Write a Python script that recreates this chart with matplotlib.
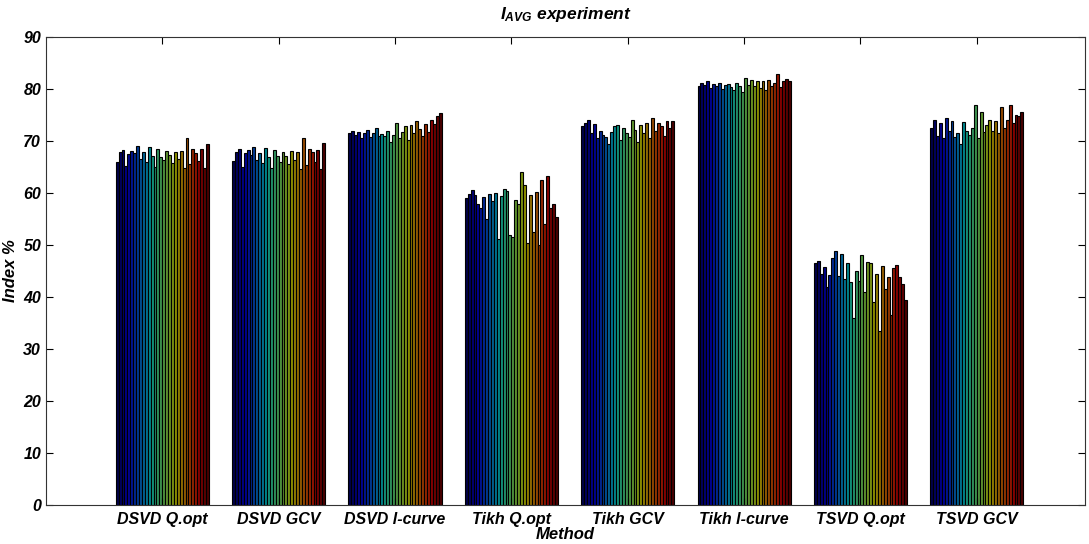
import numpy as np
import matplotlib
matplotlib.use("Agg")
import matplotlib.pyplot as plt

# dati (Index %), 32 barre per metodo
methods = ['DSVD Q.opt', 'DSVD GCV', 'DSVD l-curve', 'Tikh Q.opt',
           'Tikh GCV', 'Tikh l-curve', 'TSVD Q.opt', 'TSVD GCV']

dsvd_qopt = [66.0, 67.8, 68.3, 65.2, 67.5, 68.0, 67.6, 69.0, 66.5, 67.8, 66.0, 68.9, 67.2, 65.0, 68.5, 67.0,
             66.3, 68.0, 67.3, 65.8, 67.9, 66.5, 68.0, 64.8, 70.5, 65.5, 68.5, 67.6, 66.2, 68.4, 64.8, 69.5]
dsvd_gcv = [66.2, 67.9, 68.4, 65.0, 67.6, 68.2, 67.4, 68.9, 66.3, 67.6, 65.8, 68.7, 67.0, 64.9, 68.3, 67.2,
            66.0, 67.8, 67.1, 65.6, 68.0, 66.3, 67.8, 64.7, 70.5, 65.3, 68.4, 67.8, 66.0, 68.2, 64.6, 69.6]
dsvd_lcurve = [71.5, 72.0, 71.2, 71.8, 70.5, 71.6, 72.1, 70.8, 71.5, 72.5, 70.9, 71.3, 71.0, 72.0, 69.8, 71.2,
               73.5, 70.5, 71.8, 72.8, 70.2, 73.0, 71.5, 73.8, 72.3, 70.9, 73.2, 71.8, 74.0, 73.2, 74.8, 75.3]
tikh_qopt = [59.0, 59.8, 60.6, 59.6, 57.8, 57.2, 59.3, 55.0, 59.8, 58.4, 60.0, 51.2, 59.4, 60.7, 60.4, 52.0,
             51.5, 58.7, 57.8, 64.0, 61.6, 50.3, 59.6, 52.5, 60.2, 50.0, 62.5, 54.0, 63.3, 57.2, 57.8, 55.4]
tikh_gcv = [72.8, 73.5, 74.0, 71.5, 73.2, 70.5, 72.0, 71.2, 70.8, 69.5, 71.8, 72.8, 73.0, 70.2, 72.5, 71.6,
            70.8, 74.0, 72.2, 69.8, 73.0, 71.5, 73.5, 70.5, 74.5, 72.0, 73.5, 72.8, 71.0, 73.8, 72.5, 73.8]
tikh_lcurve = [80.5, 81.2, 80.8, 81.5, 80.2, 81.0, 80.6, 81.2, 80.0, 80.8, 81.0, 80.3, 79.8, 81.2, 80.5, 79.5,
               82.2, 80.8, 81.8, 80.5, 81.5, 80.2, 81.6, 79.8, 81.8, 80.5, 81.2, 82.8, 80.4, 81.5, 82.0, 81.6]
tsvd_qopt = [46.5, 47.0, 44.5, 45.8, 42.0, 44.2, 47.5, 48.8, 44.0, 48.2, 43.5, 46.5, 42.8, 36.0, 45.0, 43.0,
             48.0, 41.0, 46.8, 46.5, 39.0, 44.5, 33.5, 46.0, 41.5, 43.8, 36.5, 45.5, 46.2, 43.8, 42.5, 39.5]
tsvd_gcv = [72.5, 74.0, 71.0, 73.5, 70.5, 74.5, 72.0, 73.8, 70.8, 71.5, 69.5, 73.6, 72.0, 71.2, 72.5, 77.0,
            70.5, 75.5, 71.8, 73.0, 74.0, 72.0, 73.8, 71.5, 76.5, 72.5, 74.0, 77.0, 73.5, 75.0, 74.8, 75.5]

data = np.array([dsvd_qopt, dsvd_gcv, dsvd_lcurve, tikh_qopt,
                 tikh_gcv, tikh_lcurve, tsvd_qopt, tsvd_gcv])

font = ['Liberation Sans Narrow', 'Liberation Sans', 'DejaVu Sans']
plt.rcParams['font.family'] = font
plt.rcParams['font.weight'] = 'bold'
plt.rcParams['font.style'] = 'italic'
plt.rcParams['mathtext.default'] = 'regular'

fig = plt.figure(figsize=(10.89, 5.44), dpi=100)
ax = fig.add_axes([0.0422, 0.0717, 0.9541, 0.8603])

n_groups, n_bars = data.shape
x = np.arange(1, n_groups + 1)
group_w = 0.8
w = group_w / n_bars
colors = plt.cm.jet(np.linspace(0, 1, n_bars))[:, :3] * 0.58

for j in range(n_bars):
    pos = x - group_w / 2 + w * (j + 0.5)
    ax.bar(pos, data[:, j], width=w, color=colors[j], edgecolor='black', linewidth=0.8)

ax.set_xlim(0, 8.93)
ax.set_ylim(0, 90)
ax.set_yticks(np.arange(0, 91, 10))
ax.set_xticks(x)
ax.set_xticklabels(methods)
ax.tick_params(direction='in', top=True, right=True, labelsize=11.5, length=5, width=0.8)
ax.tick_params(axis='x', pad=5)
for s in ax.spines.values():
    s.set_linewidth(0.8)
    s.set_color('#333333')

ax.set_xlabel('Method', fontsize=12, fontweight='bold', labelpad=0)
ax.set_ylabel('Index %', fontsize=12, fontweight='bold', labelpad=4)
ax.set_title('$I_{AVG}$ experiment', fontsize=12.5, fontweight='bold', pad=13)

plt.savefig('out.png', dpi=100)
